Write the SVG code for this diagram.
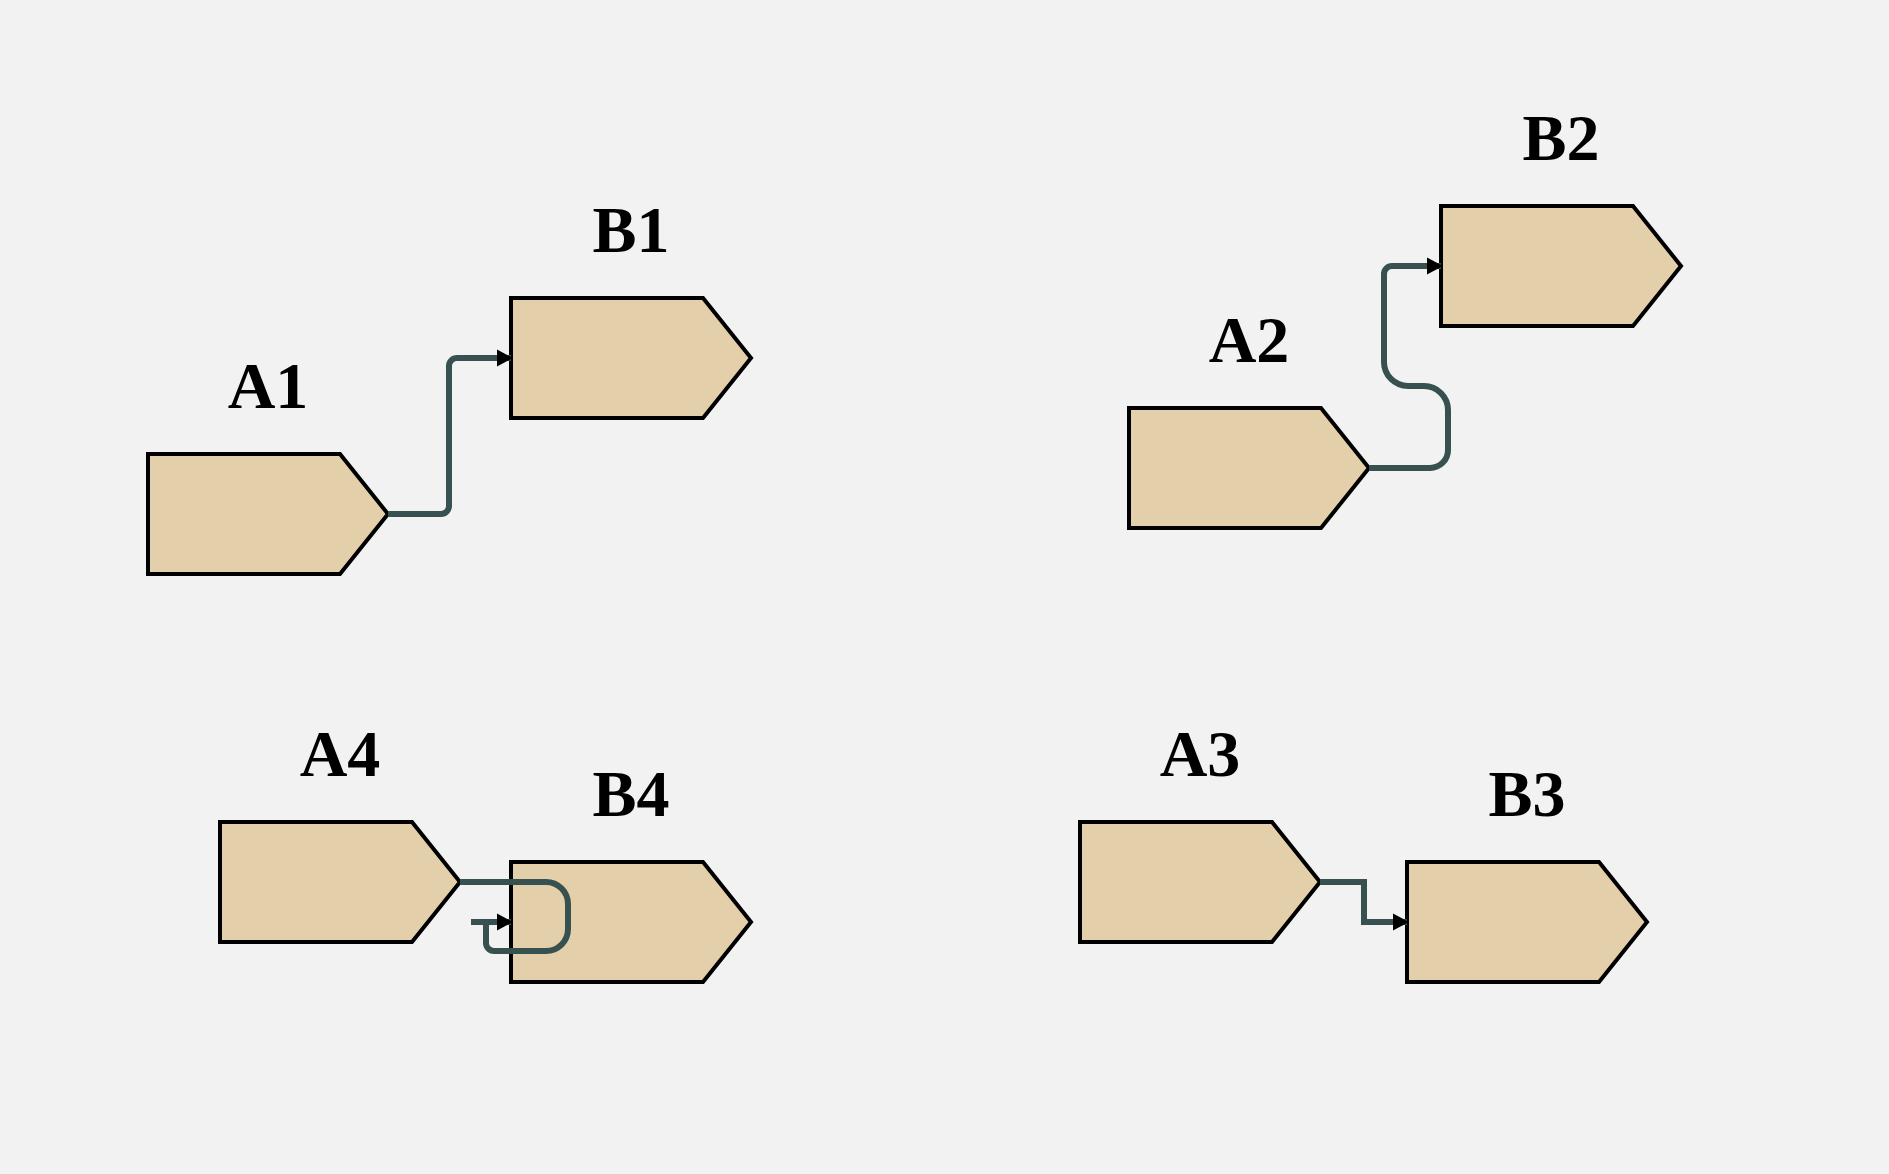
<svg xmlns="http://www.w3.org/2000/svg" width="1889" height="1174" viewBox="0 0 1889 1174">
<style>
.node{fill:#e3cfaa;stroke:#000;stroke-width:4;stroke-linejoin:miter}
.lbl{font-family:"Liberation Serif","Times New Roman",serif;font-weight:bold;font-size:66px;fill:#000;text-anchor:middle}
.conn{fill:none;stroke:#36514f;stroke-width:6;stroke-linejoin:round;marker-end:url(#arr)}
</style>
<defs>
<marker id="arr" markerUnits="userSpaceOnUse" markerWidth="17" markerHeight="17" refX="14" refY="8.5" orient="auto" overflow="visible">
<path d="M0,0 L16,8.5 L0,17 z" fill="#000"/>
</marker>
</defs>
<rect width="1889" height="1174" fill="#f2f2f2"/>
<g id="A1"><path class="node" d="M148,454 H340 L388,514 L340,574 H148 Z"/><text class="lbl" x="268" y="408">A1</text></g>
<g id="B1"><path class="node" d="M511,298 H703 L751,358 L703,418 H511 Z"/><text class="lbl" x="631" y="252">B1</text></g>
<g id="A2"><path class="node" d="M1129,408 H1321 L1369,468 L1321,528 H1129 Z"/><text class="lbl" x="1249" y="362">A2</text></g>
<g id="B2"><path class="node" d="M1441,206 H1633 L1681,266 L1633,326 H1441 Z"/><text class="lbl" x="1561" y="160">B2</text></g>
<g id="A4"><path class="node" d="M220,822 H412 L460,882 L412,942 H220 Z"/><text class="lbl" x="340" y="776">A4</text></g>
<g id="B4"><path class="node" d="M511,862 H703 L751,922 L703,982 H511 Z"/><text class="lbl" x="631" y="816">B4</text></g>
<g id="A3"><path class="node" d="M1080,822 H1272 L1320,882 L1272,942 H1080 Z"/><text class="lbl" x="1200" y="776">A3</text></g>
<g id="B3"><path class="node" d="M1407,862 H1599 L1647,922 L1599,982 H1407 Z"/><text class="lbl" x="1527" y="816">B3</text></g>
<g id="connectors">
<path class="conn" d="M388,514 H441 A8,8 0 0 0 449,506 V366 A8,8 0 0 1 457,358 H511"/>
<path class="conn" d="M1369,468 H1430 A18,18 0 0 0 1448,450 V410 A24,24 0 0 0 1424,386 H1408 A24,24 0 0 1 1384,362 V274 A8,8 0 0 1 1392,266 H1441"/>
<path class="conn" style="stroke-linejoin:miter" d="M1320,882 H1364 V922 H1407"/>
<path class="conn" d="M460,882 H546 A22,22 0 0 1 568,904 V929 A22,22 0 0 1 546,951 H494 A8,8 0 0 1 486,943 V922 M471,922 H511"/>
</g>
</svg>
